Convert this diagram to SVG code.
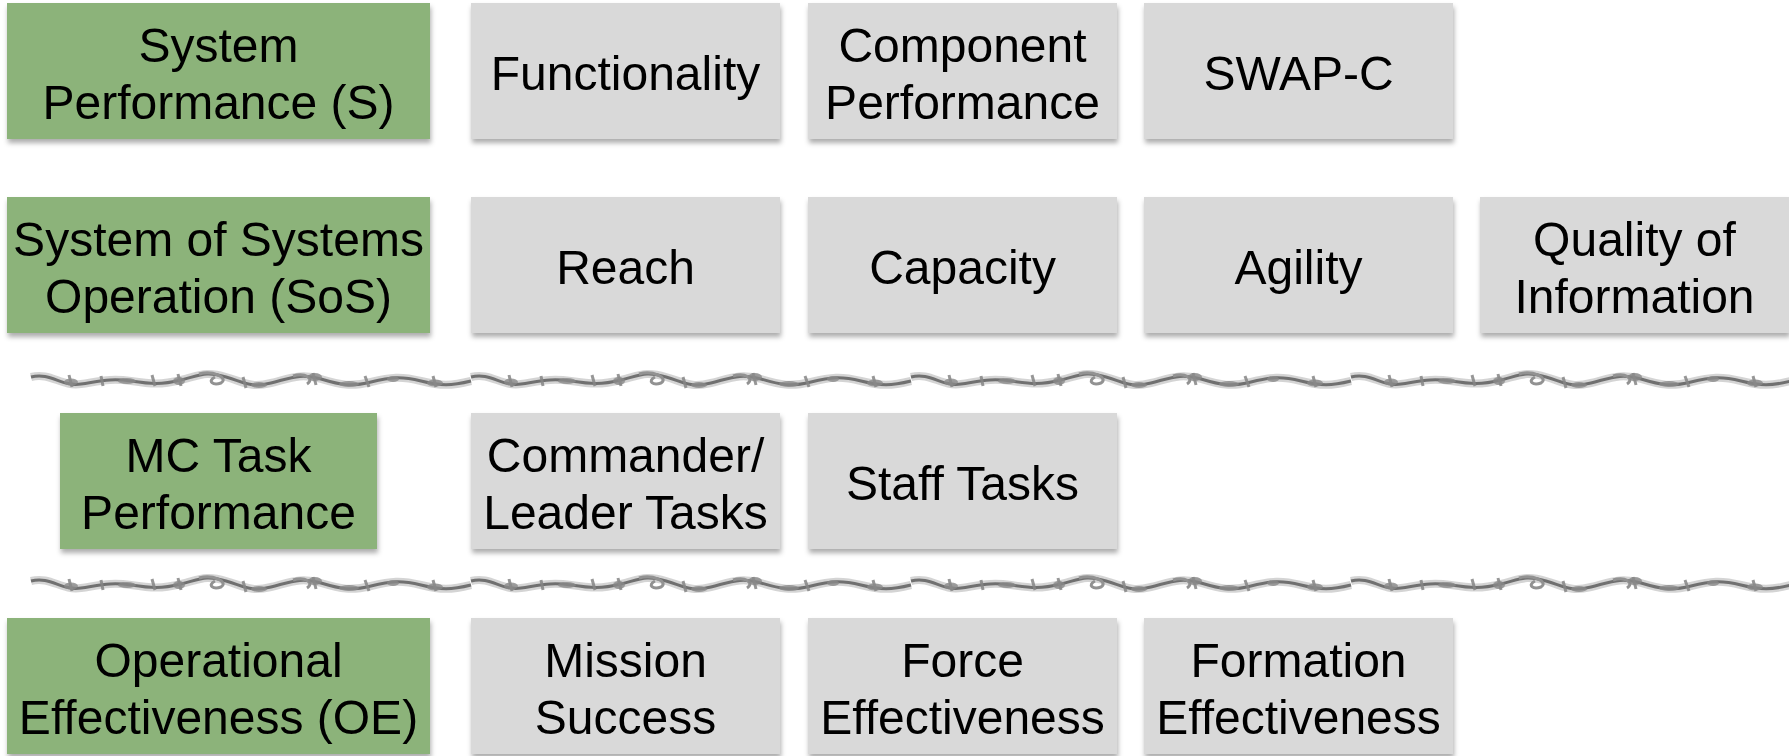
<svg xmlns="http://www.w3.org/2000/svg" xmlns:xlink="http://www.w3.org/1999/xlink" width="1789" height="756" viewBox="0 0 1789 756">
<style>
.g{fill:#8cb37a}
.b{fill:#d9d9d9}
.t{font-family:"Liberation Sans",Arial,sans-serif;font-size:48px;fill:#000;text-anchor:middle}
.wfuzz{fill:none;stroke:#a0a0a0;stroke-width:8;opacity:0.45}
.wmain{fill:none;stroke:#707070;stroke-width:3}
.wloop{fill:none;stroke:#929292;stroke-width:3}
.barb{fill:none;stroke:#858585;stroke-width:3;opacity:0.85}
.blob{fill:#8a8a8a;opacity:0.8}
</style>
<defs>
<filter id="sh" x="-5%" y="-5%" width="115%" height="125%">
<feDropShadow dx="1" dy="4" stdDeviation="2.5" flood-color="#000" flood-opacity="0.32"/>
</filter>
<g id="wire">
<path class="wfuzz" d="M0,-4 C20,-9 30,6 50,3 S80,-3 100,0 S130,4 150,-1 S175,-10 195,-4 S220,7 240,2 S270,-8 290,-2 S320,6 340,1 S370,-5 390,0 S420,5 440,0"/>
<path class="wmain" d="M0,-4 C20,-9 30,6 50,3 S80,-3 100,0 S130,4 150,-1 S175,-10 195,-4 S220,7 240,2 S270,-8 290,-2 S320,6 340,1 S370,-5 390,0 S420,5 440,0"/>
<path class="wloop" d="M168,-7 C182,-11 198,-3 190,2 C182,5 176,0 184,-4 M262,-5 C274,-9 284,-2 276,3"/>
<path class="barb" d="M38,-6 L41,6 M70,-5 L72,5 M121,-6 L124,5 M147,-7 L150,5 M212,-4 L215,7 M282,-8 L285,4 M334,-5 L338,6 M402,-5 L405,6"/>
<ellipse class="blob" cx="40" cy="1" rx="7" ry="3.5"/>
<ellipse class="blob" cx="96" cy="0" rx="9" ry="3"/>
<ellipse class="blob" cx="148" cy="0" rx="6" ry="4"/>
<ellipse class="blob" cx="228" cy="4" rx="8" ry="3"/>
<ellipse class="blob" cx="284" cy="-4" rx="7" ry="4"/>
<ellipse class="blob" cx="318" cy="3" rx="10" ry="3"/>
<ellipse class="blob" cx="362" cy="-2" rx="6" ry="3"/>
<ellipse class="blob" cx="404" cy="2" rx="8" ry="3.5"/>
</g>
</defs>

<g id="connectors">
<g id="separator1">
<use xlink:href="#wire" x="31" y="381"/>
<use xlink:href="#wire" x="471" y="381"/>
<use xlink:href="#wire" x="911" y="381"/>
<use xlink:href="#wire" x="1351" y="381"/>
</g>
<g id="separator2">
<use xlink:href="#wire" x="31" y="585"/>
<use xlink:href="#wire" x="471" y="585"/>
<use xlink:href="#wire" x="911" y="585"/>
<use xlink:href="#wire" x="1351" y="585"/>
</g>
</g>

<!-- Row 1 -->
<g id="sys-perf" filter="url(#sh)"><rect class="g" x="7" y="3" width="423" height="136"/>
<text class="t"><tspan x="218.5" y="62">System</tspan><tspan x="218.5" y="119">Performance (S)</tspan></text></g>
<g id="functionality" filter="url(#sh)"><rect class="b" x="471" y="3" width="309" height="136"/>
<text class="t" x="625.5" y="90">Functionality</text></g>
<g id="component-perf" filter="url(#sh)"><rect class="b" x="808" y="3" width="309" height="136"/>
<text class="t"><tspan x="962.5" y="62">Component</tspan><tspan x="962.5" y="119">Performance</tspan></text></g>
<g id="swapc" filter="url(#sh)"><rect class="b" x="1144" y="3" width="309" height="136"/>
<text class="t" x="1298.5" y="90">SWAP-C</text></g>

<!-- Row 2 -->
<g id="sos-op" filter="url(#sh)"><rect class="g" x="7" y="197" width="423" height="136"/>
<text class="t"><tspan x="218.5" y="256">System of Systems</tspan><tspan x="218.5" y="313">Operation (SoS)</tspan></text></g>
<g id="reach" filter="url(#sh)"><rect class="b" x="471" y="197" width="309" height="136"/>
<text class="t" x="625.5" y="284">Reach</text></g>
<g id="capacity" filter="url(#sh)"><rect class="b" x="808" y="197" width="309" height="136"/>
<text class="t" x="962.5" y="284">Capacity</text></g>
<g id="agility" filter="url(#sh)"><rect class="b" x="1144" y="197" width="309" height="136"/>
<text class="t" x="1298.5" y="284">Agility</text></g>
<g id="quality" filter="url(#sh)"><rect class="b" x="1480" y="197" width="309" height="136"/>
<text class="t"><tspan x="1634.5" y="256">Quality of</tspan><tspan x="1634.5" y="313">Information</tspan></text></g>

<!-- Row 3 -->
<g id="mc-task" filter="url(#sh)"><rect class="g" x="60" y="413" width="317" height="136"/>
<text class="t"><tspan x="218.5" y="472">MC Task</tspan><tspan x="218.5" y="529">Performance</tspan></text></g>
<g id="commander" filter="url(#sh)"><rect class="b" x="471" y="413" width="309" height="136"/>
<text class="t"><tspan x="625.5" y="472">Commander/</tspan><tspan x="625.5" y="529">Leader Tasks</tspan></text></g>
<g id="staff" filter="url(#sh)"><rect class="b" x="808" y="413" width="309" height="136"/>
<text class="t" x="962.5" y="500">Staff Tasks</text></g>

<!-- Row 4 -->
<g id="op-eff" filter="url(#sh)"><rect class="g" x="7" y="618" width="423" height="136"/>
<text class="t"><tspan x="218.5" y="677">Operational</tspan><tspan x="218.5" y="734">Effectiveness (OE)</tspan></text></g>
<g id="mission" filter="url(#sh)"><rect class="b" x="471" y="618" width="309" height="136"/>
<text class="t"><tspan x="625.5" y="677">Mission</tspan><tspan x="625.5" y="734">Success</tspan></text></g>
<g id="force" filter="url(#sh)"><rect class="b" x="808" y="618" width="309" height="136"/>
<text class="t"><tspan x="962.5" y="677">Force</tspan><tspan x="962.5" y="734">Effectiveness</tspan></text></g>
<g id="formation" filter="url(#sh)"><rect class="b" x="1144" y="618" width="309" height="136"/>
<text class="t"><tspan x="1298.5" y="677">Formation</tspan><tspan x="1298.5" y="734">Effectiveness</tspan></text></g>
</svg>
